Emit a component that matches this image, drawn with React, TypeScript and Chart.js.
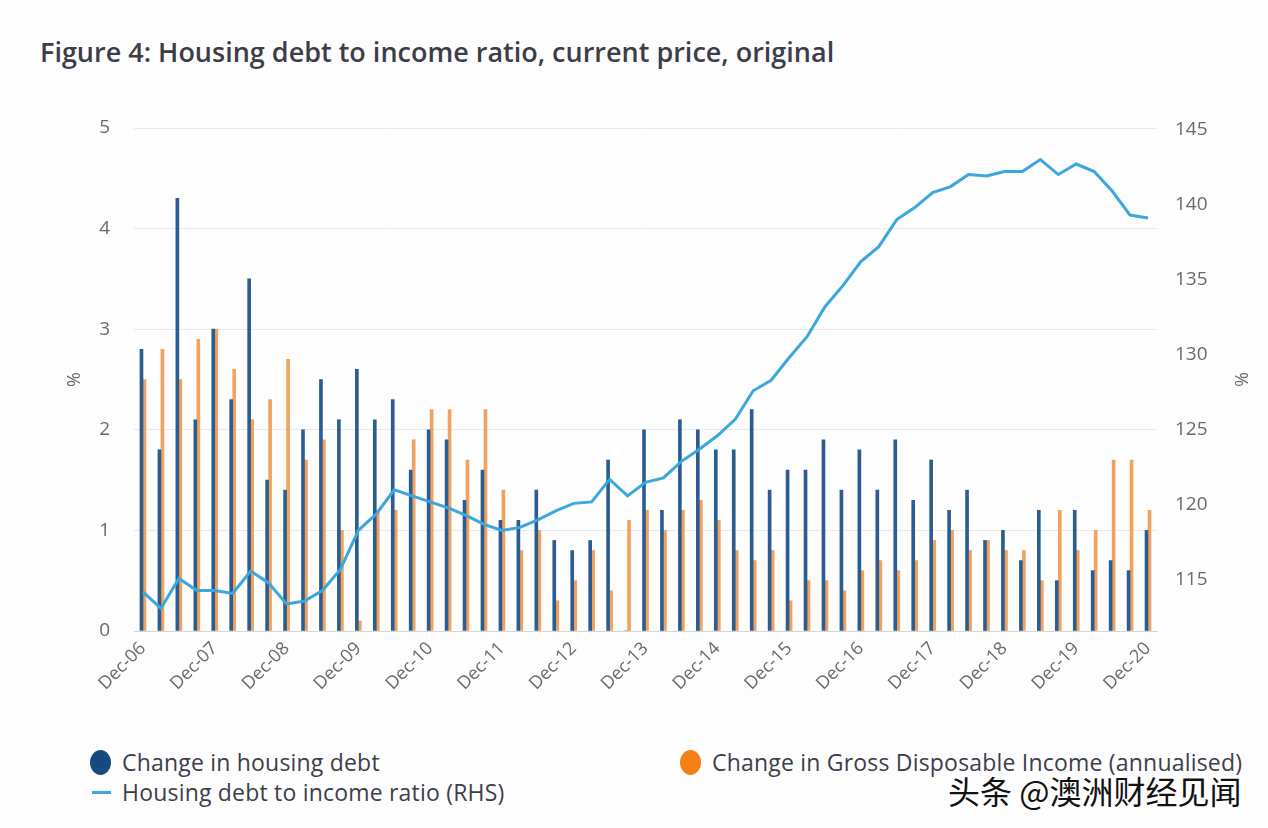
import { useEffect, useRef } from 'react';
import { Chart, registerables } from 'chart.js';

Chart.register(...registerables);

const categories = [
  'Dec-06', 'Mar-07', 'Jun-07', 'Sep-07', 'Dec-07', 'Mar-08', 'Jun-08', 'Sep-08',
  'Dec-08', 'Mar-09', 'Jun-09', 'Sep-09', 'Dec-09', 'Mar-10', 'Jun-10', 'Sep-10',
  'Dec-10', 'Mar-11', 'Jun-11', 'Sep-11', 'Dec-11', 'Mar-12', 'Jun-12', 'Sep-12',
  'Dec-12', 'Mar-13', 'Jun-13', 'Sep-13', 'Dec-13', 'Mar-14', 'Jun-14', 'Sep-14',
  'Dec-14', 'Mar-15', 'Jun-15', 'Sep-15', 'Dec-15', 'Mar-16', 'Jun-16', 'Sep-16',
  'Dec-16', 'Mar-17', 'Jun-17', 'Sep-17', 'Dec-17', 'Mar-18', 'Jun-18', 'Sep-18',
  'Dec-18', 'Mar-19', 'Jun-19', 'Sep-19', 'Dec-19', 'Mar-20', 'Jun-20', 'Sep-20',
  'Dec-20',
];

const xTickLabels = [
  'Dec-06', 'Dec-07', 'Dec-08', 'Dec-09', 'Dec-10', 'Dec-11', 'Dec-12', 'Dec-13',
  'Dec-14', 'Dec-15', 'Dec-16', 'Dec-17', 'Dec-18', 'Dec-19', 'Dec-20',
];

const housingDebtChange = [
  2.8, 1.8, 4.3, 2.1, 3.0, 2.3, 3.5, 1.5, 1.4, 2.0, 2.5, 2.1, 2.6, 2.1,
  2.3, 1.6, 2.0, 1.9, 1.3, 1.6, 1.1, 1.1, 1.4, 0.9, 0.8, 0.9, 1.7, 0,
  2.0, 1.2, 2.1, 2.0, 1.8, 1.8, 2.2, 1.4, 1.6, 1.6, 1.9, 1.4, 1.8, 1.4, 1.9,
  1.3, 1.7, 1.2, 1.4, 0.9, 1.0, 0.7, 1.2, 0.5, 1.2, 0.6, 0.7, 0.6, 1.0,
];

const incomeChange = [
  2.5, 2.8, 2.5, 2.9, 3.0, 2.6, 2.1, 2.3, 2.7, 1.7, 1.9, 1.0, 0.1, 1.2,
  1.2, 1.9, 2.2, 2.2, 1.7, 2.2, 1.4, 0.8, 1.0, 0.3, 0.5, 0.8, 0.4, 1.1,
  1.2, 1.0, 1.2, 1.3, 1.1, 0.8, 0.7, 0.8, 0.3, 0.5, 0.5, 0.4, 0.6, 0.7, 0.6,
  0.7, 0.9, 1.0, 0.8, 0.9, 0.8, 0.8, 0.5, 1.2, 0.8, 1.0, 1.7, 1.7, 1.2,
];

const debtToIncome = [
  114.2, 113.1, 115.1, 114.3, 114.3, 114.1, 115.6, 114.8, 113.4, 113.6, 114.3, 115.7, 118.3, 119.4,
  121.0, 120.6, 120.2, 119.8, 119.3, 118.7, 118.3, 118.5, 119.0, 119.6, 120.1, 120.2, 121.7, 120.6,
  121.5, 121.8, 122.9, 123.7, 124.6, 125.7, 127.6, 128.3, 129.8, 131.2, 133.2, 134.6, 136.2, 137.2, 139.0,
  139.8, 140.8, 141.2, 142.0, 141.9, 142.2, 142.2, 143.0, 142.0, 142.7, 142.2, 140.9, 139.3, 139.1,
];

const leftTicks = [0, 1, 2, 3, 4, 5];
const rightTicks = [115, 120, 125, 130, 135, 140, 145];

const BLUE = '#2c5d92';
const ORANGE = '#f2a25c';
const LINE = '#3ba7dc';
const TEXT = '#3d3d4a';
const TICK = '#6a6a6a';
const FONT = '"Open Sans", "Noto Sans", sans-serif';

export default function App() {
  const ref = useRef<HTMLCanvasElement | null>(null);

  useEffect(() => {
    if (!ref.current) return;
    const chart = new Chart(ref.current, {
      type: 'bar',
      data: {
        labels: categories,
        datasets: [
          {
            type: 'line',
            label: 'Housing debt to income ratio (RHS)',
            data: debtToIncome,
            yAxisID: 'y1',
            borderColor: LINE,
            backgroundColor: LINE,
            borderWidth: 3,
            pointRadius: 0,
            tension: 0,
            order: 0,
          },
          {
            type: 'bar',
            label: 'Change in housing debt',
            data: housingDebtChange,
            yAxisID: 'y',
            backgroundColor: BLUE,
            barThickness: 3,
            categoryPercentage: 0.5,
            order: 1,
          },
          {
            type: 'bar',
            label: 'Change in Gross Disposable Income (annualised)',
            data: incomeChange,
            yAxisID: 'y',
            backgroundColor: ORANGE,
            barThickness: 3,
            categoryPercentage: 0.5,
            order: 1,
          },
        ],
      },
      options: {
        animation: false,
        responsive: false,
        maintainAspectRatio: false,
        layout: { padding: { top: 38, left: 60, right: 13, bottom: 0 } },
        plugins: {
          legend: { display: false },
          tooltip: { enabled: false },
        },
        scales: {
          x: {
            grid: { display: false, drawTicks: false },
            border: { display: true, color: '#d6d6d6', width: 1 },
            ticks: {
              autoSkip: false,
              minRotation: 45,
              maxRotation: 45,
              padding: 7,
              color: TICK,
              font: { family: FONT, size: 18 },
              callback: (_v: any, i: number) =>
                xTickLabels.includes(categories[i]) ? categories[i] : '',
            },
            afterFit: (s: any) => {
              s.height = 89;
            },
          },
          y: {
            position: 'left',
            min: 0,
            max: 5,
            grid: { color: '#e9e9ec', lineWidth: 1, drawTicks: false },
            border: { display: false },
            afterBuildTicks: (s: any) => {
              s.ticks = leftTicks.map((v) => ({ value: v }));
            },
            ticks: {
              padding: 24,
              color: TICK,
              font: { family: FONT, size: 19 },
            },
            title: {
              display: true,
              text: '%',
              color: TICK,
              font: { family: FONT, size: 18 },
              padding: { top: 4, bottom: 4 },
            },
            afterFit: (s: any) => {
              s.width = 74;
            },
          },
          y1: {
            position: 'right',
            min: 111.6,
            max: 145.1,
            grid: { display: false, drawTicks: false },
            border: { display: false },
            afterBuildTicks: (s: any) => {
              s.ticks = rightTicks.map((v) => ({ value: v }));
            },
            ticks: {
              padding: 18,
              color: TICK,
              font: { family: FONT, size: 19 },
            },
            title: {
              display: true,
              text: '%',
              color: TICK,
              font: { family: FONT, size: 18 },
              padding: { top: 4, bottom: 4 },
            },
            afterFit: (s: any) => {
              s.width = 98;
            },
          },
        },
      },
    });
    return () => chart.destroy();
  }, []);

  const legendText = {
    position: 'absolute' as const,
    fontSize: 23,
    letterSpacing: 0.2,
    color: TEXT,
    whiteSpace: 'nowrap' as const,
    lineHeight: '30px',
  };

  return (
    <div
      style={{
        position: 'absolute',
        left: 0,
        top: 0,
        width: 1268,
        height: 828,
        background: '#fdfdfe',
        overflow: 'hidden',
        fontFamily: FONT,
      }}
    >
      <div
        style={{
          position: 'absolute',
          left: 40,
          top: 34,
          fontSize: 27,
          lineHeight: '36px',
          fontWeight: 600,
          color: TEXT,
          whiteSpace: 'nowrap',
        }}
      >
        Figure 4: Housing debt to income ratio, current price, original
      </div>
      <canvas
        ref={ref}
        width={1268}
        height={630}
        style={{ position: 'absolute', left: 0, top: 90, width: 1268, height: 630 }}
      />
      <div style={{ position: 'absolute', left: 90, top: 750, width: 21, height: 25, borderRadius: '50%', background: '#174b80' }} />
      <div style={{ ...legendText, left: 122, top: 747 }}>Change in housing debt</div>
      <div style={{ position: 'absolute', left: 680, top: 750, width: 21, height: 25, borderRadius: '50%', background: '#f57f17' }} />
      <div style={{ ...legendText, left: 712, top: 747 }}>Change in Gross Disposable Income (annualised)</div>
      <div style={{ position: 'absolute', left: 92, top: 791, width: 19, height: 3, background: LINE }} />
      <div style={{ ...legendText, left: 122, top: 777 }}>Housing debt to income ratio (RHS)</div>
      <div
        style={{
          position: 'absolute',
          left: 948,
          top: 770,
          fontSize: 32,
          color: '#111',
          whiteSpace: 'nowrap',
          fontFamily: '"Noto Sans CJK SC", sans-serif',
          lineHeight: '40px',
        }}
      >
        头条 @澳洲财经见闻
      </div>
    </div>
  );
}
